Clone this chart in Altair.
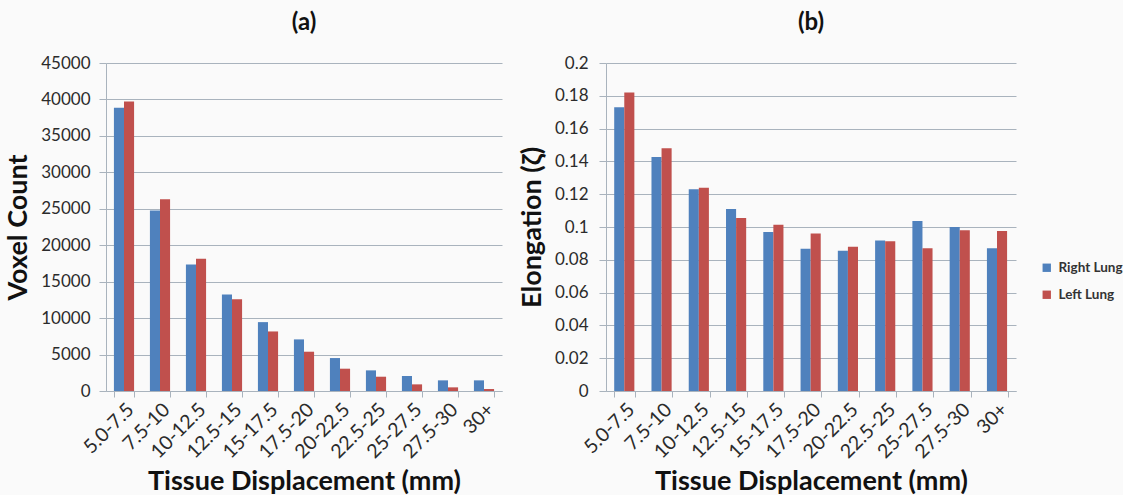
import altair as alt
import pandas as pd

categories = ["5.0-7.5", "7.5-10", "10-12.5", "12.5-15", "15-17.5", "17.5-20",
              "20-22.5", "22.5-25", "25-27.5", "27.5-30", "30+"]
series_names = ["Right Lung", "Left Lung"]
series_colors = ["#4F81BD", "#C0504D"]

right_voxels = [38860, 24770, 17350, 13240, 9450, 7080, 4520, 2830, 2060, 1460, 1460]
left_voxels = [39730, 26320, 18130, 12600, 8170, 5390, 3060, 1960, 910, 500, 270]

right_elong = [0.173, 0.1427, 0.123, 0.111, 0.097, 0.0868, 0.0855, 0.0917, 0.1037, 0.100, 0.087]
left_elong = [0.182, 0.148, 0.124, 0.1055, 0.1014, 0.096, 0.088, 0.0913, 0.087, 0.098, 0.0975]

voxel_ticks = list(range(0, 45001, 5000))
elong_ticks = [0, 0.02, 0.04, 0.06, 0.08, 0.1, 0.12, 0.14, 0.16, 0.18, 0.2]


def long_df(right, left):
    rows = []
    for c, r, l in zip(categories, right, left):
        rows.append({"cat": c, "series": series_names[0], "val": r})
        rows.append({"cat": c, "series": series_names[1], "val": l})
    return pd.DataFrame(rows)


FONT = "Lato"
TEXT = "#2b2b2b"
GRID = "#A9B3BD"


def x_enc():
    return alt.X(
        "cat:N", sort=categories,
        scale=alt.Scale(paddingInner=0.44, paddingOuter=0.22),
        axis=alt.Axis(title="Tissue Displacement (mm)", labelAngle=-45,
                      labelFontSize=19.5, tickBand="extent", tickSize=6,
                      labelPadding=3, titlePadding=7),
    )


def offset_enc():
    return alt.XOffset("series:N", sort=series_names)


def color_enc(legend):
    return alt.Color(
        "series:N", sort=series_names,
        scale=alt.Scale(domain=series_names, range=series_colors),
        legend=legend,
    )


chart_a = alt.Chart(long_df(right_voxels, left_voxels)).mark_bar().encode(
    x=x_enc(),
    xOffset=offset_enc(),
    y=alt.Y("val:Q", scale=alt.Scale(domain=[0, 45000], nice=False),
            axis=alt.Axis(title="Voxel Count", values=voxel_ticks, format="d",
                          tickSize=7, labelPadding=9, titlePadding=8)),
    color=color_enc(None),
).properties(width=396, height=328, title="(a)")

chart_b = alt.Chart(long_df(right_elong, left_elong)).mark_bar().encode(
    x=x_enc(),
    xOffset=offset_enc(),
    y=alt.Y("val:Q", scale=alt.Scale(domain=[0, 0.2], nice=False),
            axis=alt.Axis(title="Elongation (ζ)", values=elong_ticks, format="~g",
                          tickSize=7, labelPadding=11, titlePadding=8)),
    color=color_enc(alt.Legend(title=None, orient="none", legendX=434, legendY=198,
                               symbolType="square", symbolSize=70,
                               labelFontSize=13.5, labelFontWeight="bold",
                               labelColor="#333333", labelFont=FONT,
                               rowPadding=12, symbolStrokeWidth=0,
                               labelOffset=5, padding=0)),
).properties(width=410, height=328, title="(b)")

chart = alt.hconcat(chart_a, chart_b, spacing=16).resolve_legend(
    color="independent"
).properties(
    padding={"left": 4, "top": 11, "right": 0, "bottom": 0},
    background="#FAFAFA",
).configure_view(stroke=None).configure_axis(
    labelFont=FONT, titleFont=FONT, labelFontSize=17, titleFontSize=27,
    labelColor=TEXT, titleColor="#111111", titleFontWeight="bold",
    gridColor=GRID, domainColor=GRID, tickColor=GRID, gridWidth=1.2,
).configure_axisX(grid=False).configure_title(
    font=FONT, fontSize=24, fontWeight="bold", color="#111111", offset=19, anchor="middle"
)

chart.save("out.html", embed_options={"renderer": "svg", "actions": False})
